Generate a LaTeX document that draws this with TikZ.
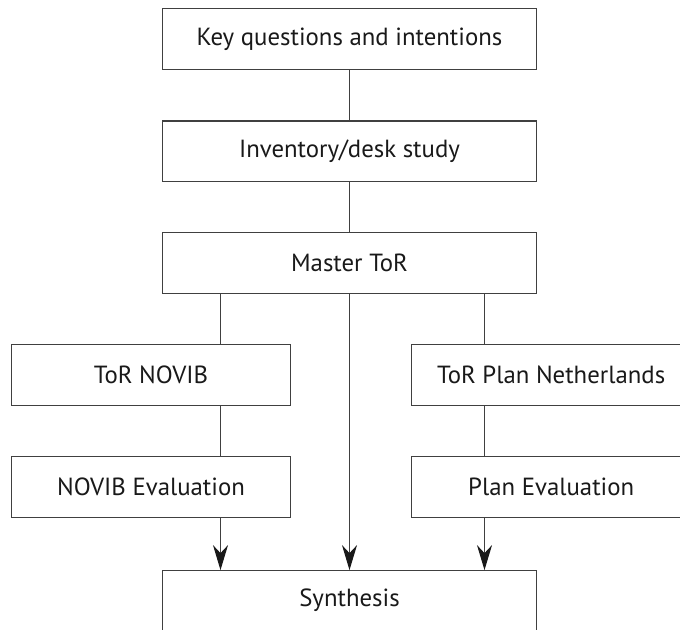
\documentclass[tikz,border=0pt]{standalone}
\usepackage{fontspec}
\setmainfont{PT Sans}
\usetikzlibrary{arrows.meta}
\tikzset{
    box/.style={draw=black!75, line width=0.55pt, minimum width=187.2pt,
        minimum height=30.4pt, inner sep=0pt, outer sep=0pt,
        font=\fontsize{12.4}{14}\selectfont, text=black!90},
    sidebox/.style={box, minimum width=139.3pt},
    link/.style={draw=black!75, line width=0.55pt},
    tip/.style={link, -{Stealth[length=12.5pt,width=7.5pt,inset=4pt,black!90]}}
}

\begin{document}
\begin{tikzpicture}[x=0.5pt,y=-0.5pt]
    \clip (0,0) rectangle (680,629);
    \node[box] (N0) at (349.5,38.8) {Key questions and intentions};
    \node[box] (N1) at (349.5,151.4) {Inventory/desk study};
    \node[box] (N2) at (349.5,263) {Master ToR};
    \node[sidebox] (N3) at (151,375) {ToR NOVIB};
    \node[sidebox] (N4) at (551.2,375) {ToR Plan Netherlands};
    \node[sidebox] (N5) at (151,487) {NOVIB Evaluation};
    \node[sidebox] (N6) at (551.2,487) {Plan Evaluation};
    \node[box] (N7) at (349.5,600.5) {Synthesis};
    \coordinate (C0) at (220.5,293.3);
    \coordinate (C1) at (484.5,293.3);
    \path[link] (N0) -- (N1) (N1) -- (N2);
    \path[link] (C0) -- (C0 |- N3.north) (C1) -- (C1 |- N4.north);
    \path[link] (C0 |- N3.south) -- (C0 |- N5.north);
    \path[link] (C1 |- N4.south) -- (C1 |- N6.north);
    \path[tip] (C0 |- N5.south) -- (C0 |- N7.north);
    \path[tip] (N2.south -| N7) -- (N7.north);
    \path[tip] (C1 |- N6.south) -- (C1 |- N7.north);
\end{tikzpicture}
\end{document}
